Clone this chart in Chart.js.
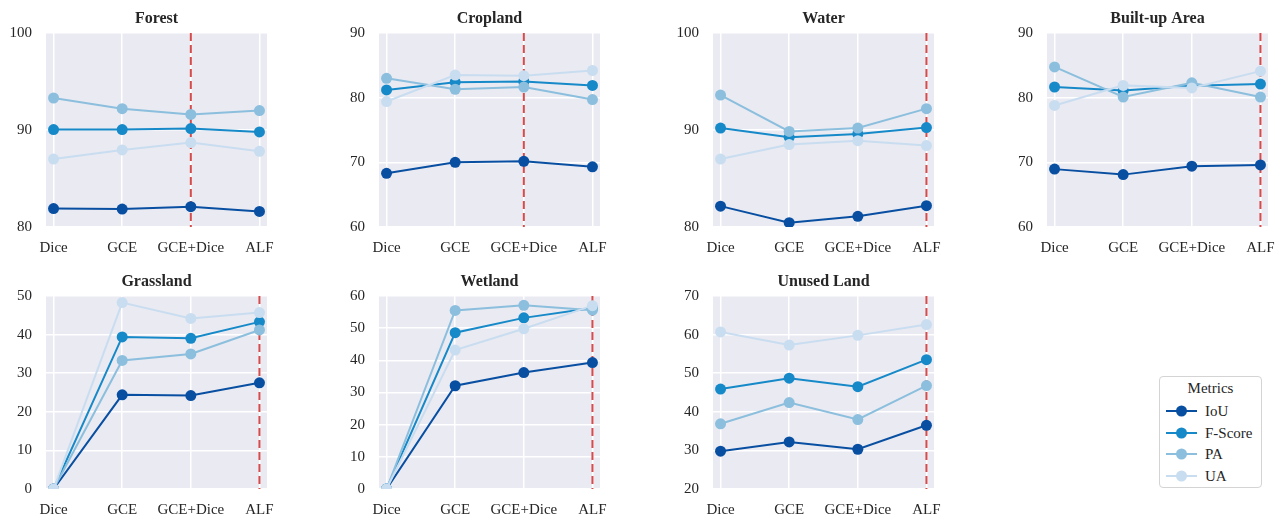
<!DOCTYPE html>
<html>
<head>
<meta charset="utf-8">
<script src="https://cdn.jsdelivr.net/npm/chart.js@4/dist/chart.umd.min.js"></script>
<style>
  html, body { margin: 0; padding: 0; background: #ffffff; }
  #wrap { position: relative; width: 1282px; height: 518px; overflow: hidden; font-family: 'Liberation Serif', 'Times New Roman', serif; color: #262626; }
  canvas { position: absolute; }
  #legend { position: absolute; left: 1159px; top: 376px; width: 103px; height: 112px; border: 1px solid #d4d4d4; border-radius: 4px; background: #ffffff; box-sizing: border-box; }
  #legend .ttl { position: absolute; left: 0; width: 100%; top: 1px; text-align: center; font-size: 15px; line-height: 20px; }
  #legend .row { position: absolute; left: 0; height: 20px; width: 100%; }
  #legend .row svg { position: absolute; left: 5px; top: 0; }
  #legend .row span { position: absolute; left: 45px; top: 0; font-size: 15px; line-height: 20px; }
</style>
</head>
<body>
<div id="wrap"></div>
<script>
// ---------- data ----------
const categories = ['Dice', 'GCE', 'GCE+Dice', 'ALF'];
const metrics = ['IoU', 'F-Score', 'PA', 'UA'];

const forestIoU = [81.9, 81.85, 82.1, 81.6];
const forestF   = [90.05, 90.05, 90.15, 89.8];
const forestPA  = [93.3, 92.2, 91.6, 92.0];
const forestUA  = [87.0, 87.95, 88.7, 87.8];

const croplandIoU = [68.3, 70.0, 70.15, 69.3];
const croplandF   = [81.2, 82.4, 82.5, 81.9];
const croplandPA  = [83.0, 81.3, 81.65, 79.7];
const croplandUA  = [79.4, 83.5, 83.4, 84.2];

const waterIoU = [82.15, 80.45, 81.1, 82.2];
const waterF   = [90.2, 89.25, 89.6, 90.25];
const waterPA  = [93.6, 89.85, 90.2, 92.2];
const waterUA  = [87.0, 88.5, 88.9, 88.4];

const builtIoU = [68.95, 68.1, 69.4, 69.6];
const builtF   = [81.65, 81.1, 81.85, 82.1];
const builtPA  = [84.75, 80.1, 82.3, 80.1];
const builtUA  = [78.8, 81.9, 81.5, 84.1];

const grassIoU = [0, 24.4, 24.2, 27.5];
const grassF   = [0, 39.4, 39.05, 43.3];
const grassPA  = [0, 33.3, 35.0, 41.2];
const grassUA  = [0, 48.3, 44.2, 45.7];

const wetIoU = [0, 32.1, 36.2, 39.3];
const wetF   = [0, 48.6, 53.2, 56.3];
const wetPA  = [0, 55.5, 57.1, 55.6];
const wetUA  = [0, 43.2, 49.8, 57.0];

const unusedIoU = [29.8, 32.2, 30.3, 36.5];
const unusedF   = [45.9, 48.7, 46.5, 53.5];
const unusedPA  = [36.9, 42.4, 38.0, 46.8];
const unusedUA  = [60.7, 57.3, 59.8, 62.6];

const titles = ['Forest', 'Cropland', 'Water', 'Built-up Area', 'Grassland', 'Wetland', 'Unused Land'];
const yMins  = [80, 60, 80, 60, 0, 0, 20];
const yMaxs  = [100, 90, 100, 90, 50, 60, 70];
const ySteps = [10, 10, 10, 10, 10, 10, 10];
const bestIdx = [2, 2, 3, 3, 3, 3, 3];

const panelSeries = [
  [forestIoU, forestF, forestPA, forestUA],
  [croplandIoU, croplandF, croplandPA, croplandUA],
  [waterIoU, waterF, waterPA, waterUA],
  [builtIoU, builtF, builtPA, builtUA],
  [grassIoU, grassF, grassPA, grassUA],
  [wetIoU, wetF, wetPA, wetUA],
  [unusedIoU, unusedF, unusedPA, unusedUA]
];

// ---------- style ----------
const colors = ['#084fa2', '#1689c8', '#8bbfdd', '#c9ddf0'];
const FONT = "'Liberation Serif', 'Times New Roman', serif";
const TEXT = '#262626';
const plotLefts = [46, 379, 713, 1047, 46, 379, 713];
const plotTops  = [33, 33, 33, 33, 296, 296, 296];
const plotW = 221;
const plotHs = [194, 194, 194, 194, 193, 193, 193];
const YAXW = 46, TITLEH = 33, XAXH = 26, RPAD = 8, BOTTOM_EXTRA = 10;

const bgPlugin = {
  id: 'bgPlugin',
  beforeDraw(chart) {
    const a = chart.chartArea, ctx = chart.ctx;
    ctx.save();
    ctx.fillStyle = '#eaeaf2';
    ctx.fillRect(a.left, a.top, a.right - a.left, a.bottom - a.top);
    ctx.restore();
  }
};
const vlinePlugin = {
  id: 'vlinePlugin',
  beforeDatasetsDraw(chart, args, opts) {
    const a = chart.chartArea, ctx = chart.ctx;
    const x = chart.scales.x.getPixelForValue(opts.index);
    ctx.save();
    ctx.strokeStyle = '#d64b4b';
    ctx.lineWidth = 2;
    ctx.setLineDash([8, 4]);
    ctx.beginPath();
    ctx.moveTo(x, a.top);
    ctx.lineTo(x, a.bottom);
    ctx.stroke();
    ctx.restore();
  }
};

const wrap = document.getElementById('wrap');
titles.forEach((t, p) => {
  const c = document.createElement('canvas');
  const w = YAXW + plotW + RPAD;
  const h = TITLEH + plotHs[p] + XAXH + BOTTOM_EXTRA;
  c.width = w; c.height = h;
  c.style.width = w + 'px'; c.style.height = h + 'px';
  c.style.left = (plotLefts[p] - YAXW) + 'px';
  c.style.top = (plotTops[p] - TITLEH) + 'px';
  wrap.appendChild(c);

  const datasets = metrics.map((m, i) => ({
    label: m,
    data: panelSeries[p][i].map((v, j) => ({ x: j, y: v })),
    borderColor: colors[i],
    backgroundColor: colors[i],
    pointBackgroundColor: colors[i],
    pointBorderColor: colors[i],
    pointBorderWidth: 0,
    pointRadius: 5.5,
    borderWidth: 2,
    tension: 0,
    order: 3 - i
  }));

  new Chart(c, {
    type: 'line',
    data: { datasets },
    options: {
      animation: false,
      responsive: false,
      devicePixelRatio: 1,
      events: [],
      layout: { padding: { left: 0, right: RPAD, top: 0, bottom: BOTTOM_EXTRA } },
      plugins: {
        legend: { display: false },
        tooltip: { enabled: false },
        title: {
          display: true, text: t, fullSize: false, color: TEXT,
          font: { family: FONT, size: 16, weight: 'bold', lineHeight: 1.2 },
          padding: { top: 9, bottom: 4.8 }
        },
        vlinePlugin: { index: bestIdx[p] }
      },
      scales: {
        x: {
          type: 'linear', min: -0.11, max: 3.11,
          afterBuildTicks: s => { s.ticks = categories.map((cname, i) => ({ value: i })); },
          afterFit: s => { s.height = XAXH; s.paddingLeft = 0; s.paddingRight = 0; },
          ticks: {
            callback: v => categories[v],
            font: { family: FONT, size: 15 }, color: TEXT,
            padding: 12, maxRotation: 0, autoSkip: false
          },
          grid: { color: '#ffffff', lineWidth: 1.5, drawTicks: false },
          border: { display: false }
        },
        y: {
          min: yMins[p], max: yMaxs[p],
          afterFit: s => { s.width = YAXW; s.paddingTop = 0; s.paddingBottom = 0; },
          ticks: { stepSize: ySteps[p], font: { family: FONT, size: 15 }, color: TEXT, padding: 14 },
          grid: { color: '#ffffff', lineWidth: 1.5, drawTicks: false },
          border: { display: false }
        }
      }
    },
    plugins: [bgPlugin, vlinePlugin]
  });
});

// ---------- legend ----------
const lg = document.createElement('div');
lg.id = 'legend';
let html = '<div class="ttl">Metrics</div>';
metrics.forEach((m, i) => {
  const top = 24 + i * 21.6;
  html += '<div class="row" style="top:' + top + 'px">' +
    '<svg width="34" height="20"><line x1="1" y1="10" x2="32" y2="10" stroke="' + colors[i] + '" stroke-width="2"/>' +
    '<circle cx="16.5" cy="10" r="5.5" fill="' + colors[i] + '"/></svg>' +
    '<span>' + m + '</span></div>';
});
lg.innerHTML = html;
wrap.appendChild(lg);
</script>
</body>
</html>
